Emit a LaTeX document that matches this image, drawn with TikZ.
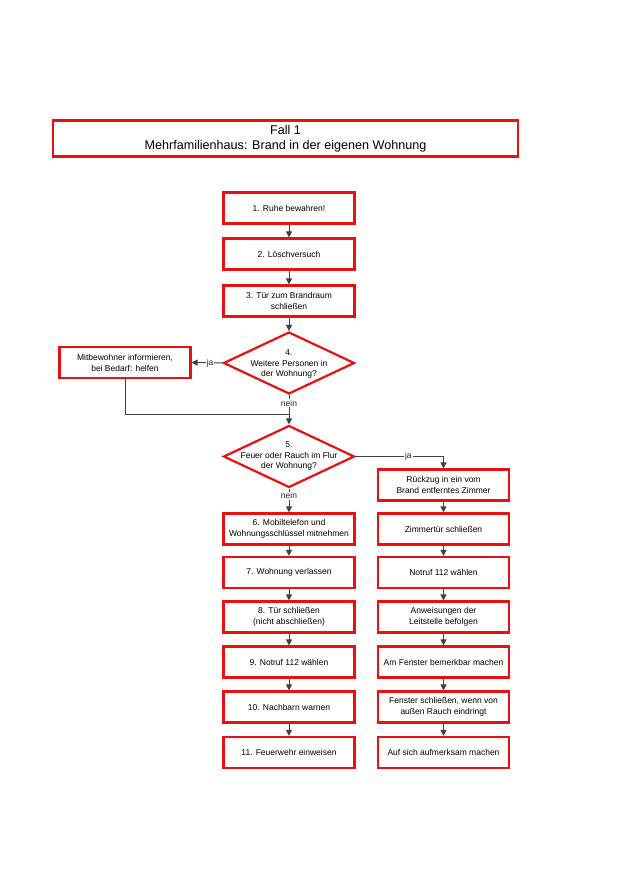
\documentclass[tikz,border=0pt]{standalone}
\usepackage{fontspec}
\setmainfont{Liberation Sans}
\usetikzlibrary{shapes.geometric,arrows.meta}
\definecolor{bred}{RGB}{232,16,16}
\definecolor{lgray}{RGB}{64,64,64}
\begin{document}
\begin{tikzpicture}[x=1pt,y=-1pt,
  box/.style={draw=bred,line width=2.2pt,fill=white,minimum width=131pt,minimum height=31pt,align=center,font=\fontsize{8.5}{11}\selectfont,inner sep=1pt},
  dia/.style={draw=bred,line width=2.2pt,fill=white,diamond,minimum width=131pt,minimum height=62pt,inner sep=0pt},
  dtext/.style={align=center,font=\fontsize{8.5}{10.8}\selectfont,inner sep=0pt},
  arr/.style={draw=lgray,line width=1pt,-{Triangle[length=6pt,width=6pt]}},
  ln/.style={draw=lgray,line width=1pt},
  lab/.style={fill=white,inner sep=1pt,font=\fontsize{8.5}{10}\selectfont,text=lgray!60!black}]
\useasboundingbox (0,0) rectangle (620,877);
\node[draw=bred,line width=2.4pt,minimum width=465pt,minimum height=36pt,align=center,font=\fontsize{12.6}{15}\selectfont,inner sep=0pt] (title) at (285.5,138.5) {Fall 1\\Mehrfamilienhaus: Brand in der eigenen Wohnung};
% left column
\node[box] (b1) at (289,208) {1. Ruhe bewahren!};
\node[box] (b2) at (289,254) {2. Löschversuch};
\node[box] (b3) at (289,301) {3. Tür zum Brandraum\\schließen};
\node[dia] (d4) at (289,363) {};
\node[dtext] (t4) at (289,364) {4.\\Weitere Personen in\\der Wohnung?};
\node[box] (m) at (125,362.5) {Mitbewohner informieren,\\bei Bedarf: helfen};
\coordinate (j4) at (289,414);
\node[dia] (d5) at (289,456.5) {};
\node[dtext] (t5) at (289,456) {5.\\Feuer oder Rauch im Flur\\der Wohnung?};
\node[box] (b6) at (289,529) {6. Mobiltelefon und\\Wohnungsschlüssel mitnehmen};
\node[box] (b7) at (289,572.5) {7. Wohnung verlassen};
\node[box] (b8) at (289,617) {8. Tür schließen\\(nicht abschließen)};
\node[box] (b9) at (289,662) {9. Notruf 112 wählen};
\node[box] (b10) at (289,707) {10. Nachbarn warnen};
\node[box] (b11) at (289,752.5) {11. Feuerwehr einweisen};
% right column
\node[box] (r1) at (443.5,485) {Rückzug in ein vom\\Brand entferntes Zimmer};
\node[box] (r2) at (443.5,529) {Zimmertür schließen};
\node[box] (r3) at (443.5,572.5) {Notruf 112 wählen};
\node[box] (r4) at (443.5,617) {Anweisungen der\\Leitstelle befolgen};
\node[box] (r5) at (443.5,662) {Am Fenster bemerkbar machen};
\node[box] (r6) at (443.5,707) {Fenster schließen, wenn von\\außen Rauch eindringt};
\node[box] (r7) at (443.5,752.5) {Auf sich aufmerksam machen};
% connectors
\draw[arr] (b1) -- (b2);
\draw[arr] (b2) -- (b3);
\draw[arr] (b3) -- (d4.north);
\draw[arr] (d4.west) -- node[lab,pos=0.4]{ja} (m.east);
\draw[ln] (m.south) |- (j4);
\draw[arr] (d4.south) -- node[lab,pos=0.27]{nein} (d5.north);
\draw[arr] (d5.east) -| node[lab,pos=0.3]{ja} (r1.north);
\draw[arr] (d5.south) -- node[lab,pos=0.3]{nein} (b6.north);
\draw[arr] (b6) -- (b7);
\draw[arr] (b7) -- (b8);
\draw[arr] (b8) -- (b9);
\draw[arr] (b9) -- (b10);
\draw[arr] (b10) -- (b11);
\draw[arr] (r1) -- (r2);
\draw[arr] (r2) -- (r3);
\draw[arr] (r3) -- (r4);
\draw[arr] (r4) -- (r5);
\draw[arr] (r5) -- (r6);
\draw[arr] (r6) -- (r7);
\end{tikzpicture}
\end{document}
